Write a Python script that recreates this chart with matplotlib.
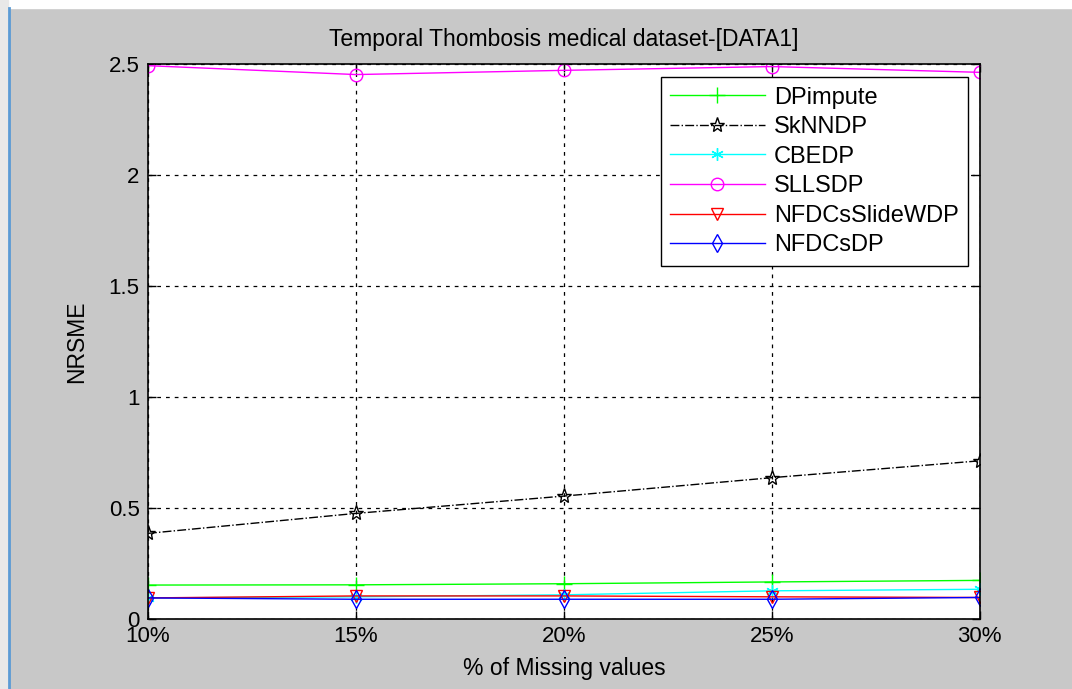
import matplotlib
matplotlib.use('Agg')
import matplotlib.pyplot as plt
from matplotlib.lines import Line2D
from matplotlib.patches import Rectangle

plt.rcParams['font.family'] = ['Liberation Sans', 'DejaVu Sans']

# % missing values and NRSME per method
missing = [10, 15, 20, 25, 30]
xlabels = ['10%', '15%', '20%', '25%', '30%']
dpimpute = [0.153, 0.154, 0.159, 0.167, 0.174]
sknndp = [0.386, 0.476, 0.554, 0.637, 0.713]
cbedp = [0.095, 0.100, 0.109, 0.127, 0.134]
sllsdp = [2.494, 2.454, 2.473, 2.490, 2.464]
nfdcs_slide = [0.095, 0.104, 0.104, 0.100, 0.097]
nfdcsdp = [0.095, 0.089, 0.089, 0.089, 0.097]

fig = plt.figure(figsize=(10.72, 6.89), dpi=100)
fig.patch.set_facecolor('#c8c8c8')
# window frame bits
fig.add_artist(Rectangle((0, 0.988), 1, 0.012, transform=fig.transFigure, color='white', zorder=0))
fig.add_artist(Rectangle((0, 0), 0.007, 1, transform=fig.transFigure, color='#e8e8e8', zorder=0))
fig.add_artist(Line2D([0.0085, 0.0085], [0, 0.988], transform=fig.transFigure, color='#5b9bd5', lw=2))

ax = fig.add_axes([0.138, 0.1016, 0.776, 0.805])
ax.set_facecolor('white')

ms = 9
ax.plot(missing, dpimpute, color='#00ff00', marker='+', ms=12, lw=1, label='DPimpute')
ax.plot(missing, sknndp, color='black', ls='-.', marker='*', mfc='none', ms=11, lw=1, label='SkNNDP')
ax.plot(missing, cbedp, color='cyan', marker=(6, 2, 0), ms=ms, lw=1, label='CBEDP')
ax.plot(missing, sllsdp, color='magenta', marker='o', mfc='none', ms=ms, lw=1, label='SLLSDP')
ax.plot(missing, nfdcs_slide, color='red', marker='v', mfc='none', ms=ms, lw=1, label='NFDCsSlideWDP')
ax.plot(missing, nfdcsdp, color='blue', marker='d', mfc='none', ms=ms, lw=1, label='NFDCsDP')

ax.set_xlim(10, 30)
ax.set_ylim(0, 2.5)
ax.set_xticks(missing)
ax.set_xticklabels(xlabels)
ax.set_yticks([0, 0.5, 1, 1.5, 2, 2.5])
ax.set_yticklabels(['0', '0.5', '1', '1.5', '2', '2.5'])
ax.tick_params(direction='in', top=True, right=True, labelsize=16, length=6, width=1)
ax.tick_params(axis='x', pad=5)
ax.tick_params(axis='y', pad=6)
ax.grid(True, color='black', ls=(0, (3, 4)), lw=0.9)
for s in ax.spines.values():
    s.set_linewidth(1.2)

ax.set_title('Temporal Thombosis medical dataset-[DATA1]', fontsize=16.5, pad=13)
ax.set_xlabel('% of Missing values', fontsize=16.5, labelpad=7)
ax.set_ylabel('NRSME', fontsize=16.5, labelpad=15)

leg = ax.legend(loc='upper right', bbox_to_anchor=(0.986, 0.977), fontsize=17,
                fancybox=False, framealpha=1, edgecolor='black', handlelength=4.0,
                handletextpad=0.4, borderpad=0.4, labelspacing=0.32, borderaxespad=0)
leg.get_frame().set_linewidth(1.0)

fig.savefig('out.png', dpi=100, facecolor=fig.get_facecolor())
